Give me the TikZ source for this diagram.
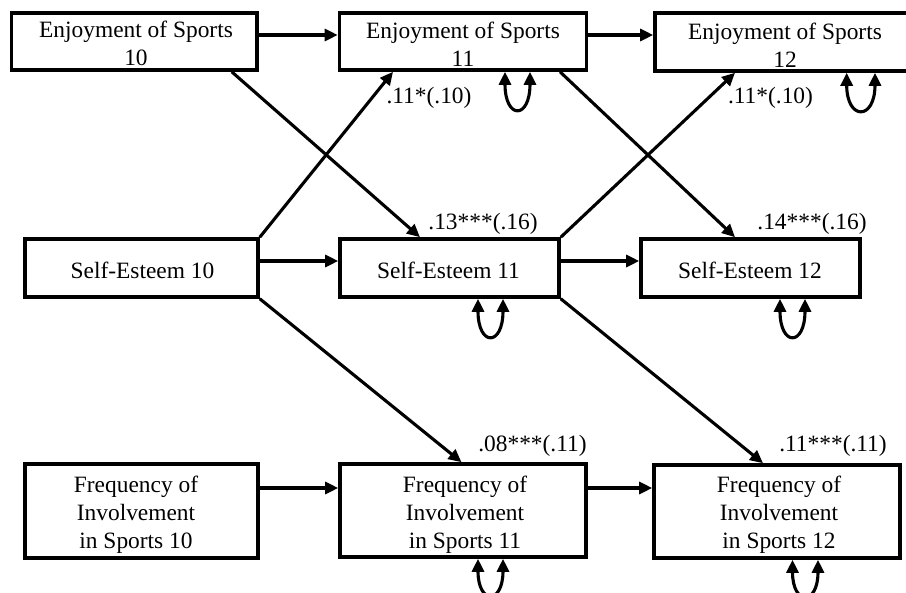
\documentclass[tikz,border=0pt]{standalone}
\usepackage{fontspec}
\setmainfont{Liberation Serif}
\usetikzlibrary{arrows.meta}
\tikzset{
  box/.style={draw, line width=3.6pt, rectangle, inner sep=0pt},
  lbl/.style={inner sep=0pt, font=\fontsize{23.4}{26}\selectfont},
  txt/.style={inner sep=0pt, align=center, anchor=base, font=\fontsize{23.4}{28}\selectfont},
  arr/.style={line width=3.1pt, -{Triangle[length=13pt,width=12pt]}},
  dbl/.style={line width=3.1pt, {Triangle[length=13pt,width=12pt]}-{Triangle[length=13pt,width=12pt]}},
}
\begin{document}
\begin{tikzpicture}[x=1pt,y=1pt]
\useasboundingbox (0,0) rectangle (906,-593);
% boxes
\node[box, minimum width=245.5pt, minimum height=57pt] (e10) at (134.25,-41.5) {};
\node[box, minimum width=247pt, minimum height=57pt] (e11) at (463,-41.5) {};
\node[box, minimum width=264pt, minimum height=58pt] (e12) at (787,-42) {};
\node[box, minimum width=233pt, minimum height=58pt] (s10) at (141.5,-268) {};
\node[box, minimum width=219pt, minimum height=58pt] (s11) at (449.5,-268) {};
\node[box, minimum width=219pt, minimum height=58pt] (s12) at (750.5,-268) {};
\node[box, minimum width=233pt, minimum height=94pt] (f10) at (141.5,-511) {};
\node[box, minimum width=246pt, minimum height=93pt] (f11) at (463,-510.5) {};
\node[box, minimum width=246pt, minimum height=93pt] (f12) at (777,-511.5) {};
% box texts (anchor = baseline of last line)
\node[txt] (e10t) at (136,-66) {Enjoyment of Sports\\10};
\node[txt] (e11t) at (463,-66.5) {Enjoyment of Sports\\11};
\node[txt] (e12t) at (785,-67.5) {Enjoyment of Sports\\12};
\node[txt] (s10t) at (142.5,-279) {Self-Esteem 10};
\node[txt] (s11t) at (448.5,-279) {Self-Esteem 11};
\node[txt] (s12t) at (750,-279) {Self-Esteem 12};
\node[txt] (f10t) at (136,-549) {Frequency of\\Involvement\\in Sports 10};
\node[txt] (f11t) at (465,-549) {Frequency of\\Involvement\\in Sports 11};
\node[txt] (f12t) at (779,-548.5) {Frequency of\\Involvement\\in Sports 12};
% horizontal paths
\draw[arr] ([yshift=6.5pt]e10.east) -- ([yshift=6.5pt]e11.west);
\draw[arr] ([yshift=6.5pt]e11.east) -- ([yshift=7pt]e12.west);
\draw[arr] ([yshift=7pt]s10.east) -- ([yshift=7pt]s11.west);
\draw[arr] ([yshift=7pt]s11.east) -- ([yshift=7pt]s12.west);
\draw[arr] ([yshift=23pt]f10.east) -- ([yshift=22.5pt]f11.west);
\draw[arr] ([yshift=22.5pt]f11.east) -- ([yshift=23.5pt]f12.west);
% cross-lagged paths
\draw[arr] ([xshift=97.5pt]e10.south) -- ([xshift=-29.5pt]s11.north);
\draw[arr] (s10.north east) -- ([xshift=-70pt]e11.south);
\draw[arr] (s10.south east) -- ([xshift=-1.5pt]f11.north);
\draw[arr] (s11.north east) -- ([xshift=-52pt]e12.south);
\draw[arr] ([xshift=97pt]e11.south) -- ([xshift=-15.5pt]s12.north);
\draw[arr] (s11.south east) -- ([xshift=-14pt]f12.north);
% residual loops
\draw[dbl] ([xshift=42pt]e11.south) .. controls +(0,-48) and +(0,-48) .. ([xshift=67pt]e11.south);
\draw[dbl] ([xshift=59.7pt]e12.south) .. controls +(0,-48) and +(0,-48) .. ([xshift=88pt]e12.south);
\draw[dbl] ([xshift=28.5pt]s11.south) .. controls +(0,-48) and +(0,-48) .. ([xshift=53.5pt]s11.south);
\draw[dbl] ([xshift=29.5pt]s12.south) .. controls +(0,-48) and +(0,-48) .. ([xshift=54.5pt]s12.south);
\draw[dbl] ([xshift=15pt]f11.south) .. controls +(0,-46) and +(0,-46) .. ([xshift=40pt]f11.south);
\draw[dbl] ([xshift=15.5pt]f12.south) .. controls +(0,-46) and +(0,-46) .. ([xshift=41pt]f12.south);
% coefficient labels
\node[lbl] (l1) at (429,-97.5) {.11*(.10)};
\node[lbl] (l2) at (770.5,-97.5) {.11*(.10)};
\node[lbl] (l3) at (483,-224) {.13***(.16)};
\node[lbl] (l4) at (812,-223.5) {.14***(.16)};
\node[lbl] (l5) at (532.5,-446) {.08***(.11)};
\node[lbl] (l6) at (833,-446) {.11***(.11)};
\end{tikzpicture}
\end{document}
